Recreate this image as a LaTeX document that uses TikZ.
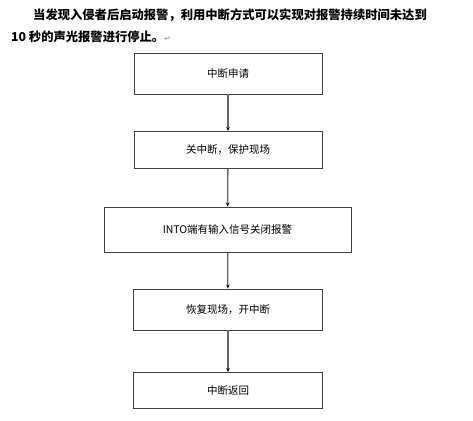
\documentclass[tikz,border=0pt]{standalone}
\usepackage{fontspec}
\newfontfamily\cjk{Noto Sans CJK SC}
\newfontfamily\djv{DejaVu Sans}
\usetikzlibrary{arrows.meta}
\begin{document}
\begin{tikzpicture}[x=1pt,y=-1pt,
  box/.style={draw=black!75,line width=0.9pt,fill=white,inner sep=0pt,font=\cjk\fontsize{10.5}{12}\selectfont},
  conn/.style={draw=black!60,line width=1.3pt,-{Stealth[length=4pt,width=3.5pt,black]}},
  head/.style={anchor=west,inner sep=0pt,font=\cjk\bfseries\fontsize{12.3}{14}\selectfont}]
\useasboundingbox (0,0) rectangle (473,420);
\node[head] (l1) at (33,15) {当发现入侵者后启动报警，利用中断方式可以实现对报警持续时间未达到};
\node[head] (l2) at (11,37) {10 秒的声光报警进行停止。{\djv\mdseries\fontsize{8}{10}\selectfont\color{black!45}↵}};
\node[box,minimum width=188pt,minimum height=41pt] (b1) at (228,73.5) {中断申请};
\node[box,minimum width=188pt,minimum height=37pt] (b2) at (228,150) {关中断，保护现场};
\node[box,minimum width=247pt,minimum height=45pt] (b3) at (227.5,229.5) {INTO端有输入信号关闭报警};
\node[box,minimum width=189pt,minimum height=41pt] (b4) at (228,309.5) {恢复现场，开中断};
\node[box,minimum width=189pt,minimum height=36pt] (b5) at (228,390.5) {中断返回};
\draw[conn] (b1) -- (b2);
\draw[conn] (b2) -- (b3);
\draw[conn] (b3) -- (b4);
\draw[conn] (b4) -- (b5);
\end{tikzpicture}
\end{document}
